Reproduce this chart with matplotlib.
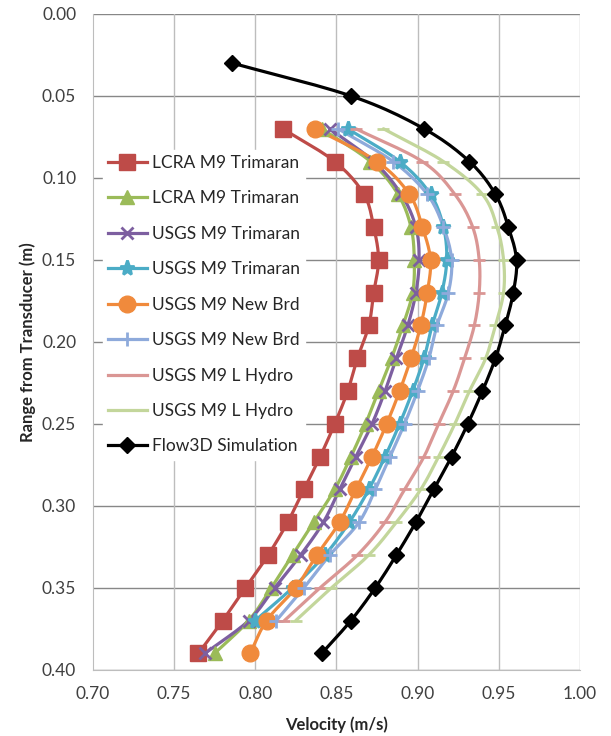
import numpy as np
import matplotlib
matplotlib.use("Agg")
import matplotlib.pyplot as plt
from matplotlib.lines import Line2D

plt.rcParams['font.family'] = ['Lato', 'DejaVu Sans']

# Depths (m) of the measured profiles
depth_17 = [0.07, 0.09, 0.11, 0.13, 0.15, 0.17, 0.19, 0.21, 0.23, 0.25,
            0.27, 0.29, 0.31, 0.33, 0.35, 0.37, 0.39]
depth_16 = depth_17[:16]
depth_flow3d = [0.03, 0.05] + depth_17

# Velocities (m/s)
lcra_trimaran_1 = [0.817, 0.849, 0.867, 0.873, 0.876, 0.873, 0.870, 0.863, 0.857,
                   0.849, 0.840, 0.830, 0.820, 0.808, 0.794, 0.780, 0.765]
lcra_trimaran_2 = [0.841, 0.871, 0.888, 0.896, 0.898, 0.897, 0.891, 0.884, 0.876,
                   0.868, 0.859, 0.849, 0.836, 0.823, 0.810, 0.796, 0.775]
usgs_trimaran_1 = [0.846, 0.873, 0.890, 0.899, 0.901, 0.899, 0.894, 0.887, 0.880,
                   0.872, 0.862, 0.852, 0.842, 0.828, 0.812, 0.796, 0.769]
usgs_trimaran_2 = [0.857, 0.889, 0.908, 0.916, 0.918, 0.915, 0.909, 0.904, 0.897,
                   0.889, 0.880, 0.870, 0.858, 0.843, 0.823, 0.800]
usgs_newbrd_1 = [0.837, 0.875, 0.895, 0.903, 0.908, 0.906, 0.902, 0.896, 0.889,
                 0.881, 0.872, 0.862, 0.852, 0.838, 0.825, 0.807, 0.797]
usgs_newbrd_2 = [0.851, 0.885, 0.906, 0.916, 0.921, 0.919, 0.912, 0.907, 0.900,
                 0.892, 0.883, 0.874, 0.864, 0.846, 0.830, 0.813]
usgs_lhydro_1 = [0.862, 0.903, 0.923, 0.934, 0.938, 0.938, 0.935, 0.929, 0.922,
                 0.913, 0.904, 0.892, 0.880, 0.863, 0.840, 0.818]
usgs_lhydro_2 = [0.879, 0.916, 0.940, 0.949, 0.953, 0.953, 0.948, 0.942, 0.932,
                 0.923, 0.913, 0.902, 0.887, 0.870, 0.847, 0.825]
flow3d_sim = [0.786, 0.859, 0.904, 0.932, 0.948, 0.956, 0.961, 0.959, 0.954, 0.948,
              0.940, 0.931, 0.921, 0.910, 0.899, 0.887, 0.874, 0.859, 0.841]

series = [
    ("LCRA M9 Trimaran", lcra_trimaran_1, depth_17, "#BE4B48", "s", 11),
    ("LCRA M9 Trimaran", lcra_trimaran_2, depth_17, "#9BBB59", "^", 10),
    ("USGS M9 Trimaran", usgs_trimaran_1, depth_17, "#7D5FA0", "x", 9),
    ("USGS M9 Trimaran", usgs_trimaran_2, depth_16, "#4BACC6", "*", 11),
    ("USGS M9 New Brd", usgs_newbrd_1, depth_17, "#F08A3C", "o", 12),
    ("USGS M9 New Brd", usgs_newbrd_2, depth_16, "#8EAADB", "+", 10),
    ("USGS M9 L Hydro", usgs_lhydro_1, depth_16, "#DA9694", "_", 8),
    ("USGS M9 L Hydro", usgs_lhydro_2, depth_16, "#C3D69B", "_", 8),
    ("Flow3D Simulation", flow3d_sim, depth_flow3d, "#000000", "D", 8),
]


def smooth(x, y, n=12):
    """Catmull-Rom curve through the points, like a smoothed spreadsheet line."""
    p = np.column_stack([x, y]).astype(float)
    p = np.vstack([p[0] - (p[1] - p[0]), p, p[-1] + (p[-1] - p[-2])])
    out = []
    t = np.linspace(0, 1, n, endpoint=False)[:, None]
    for i in range(1, len(p) - 2):
        p0, p1, p2, p3 = p[i - 1], p[i], p[i + 1], p[i + 2]
        seg = 0.5 * ((2 * p1) + (-p0 + p2) * t
                     + (2 * p0 - 5 * p1 + 4 * p2 - p3) * t ** 2
                     + (-p0 + 3 * p1 - 3 * p2 + p3) * t ** 3)
        out.append(seg)
    out.append(p[-2][None, :])
    out = np.vstack(out)
    return out[:, 0], out[:, 1]


fig = plt.figure(figsize=(6.11, 7.36), dpi=100)
ax = fig.add_axes([0.152, 0.090, 0.797, 0.891])

handles = []
for label, vel, dep, color, marker, ms in series:
    sx, sy = smooth(vel, dep)
    ax.plot(sx, sy, color=color, lw=2.3, solid_capstyle='round', zorder=3)
    mew = 2.0 if marker in ("x", "+", "_", "*") else 1.0
    ax.plot(vel, dep, linestyle='none', marker=marker, ms=ms, color=color,
            mec=color, mew=mew, zorder=4)
    handles.append(Line2D([], [], color=color, lw=2.3, marker=marker, ms=ms,
                          mec=color, mew=mew, label=label))

ax.set_xlim(0.70, 1.00)
ax.set_ylim(0.40, 0.00)
ax.set_xticks(np.arange(0.70, 1.001, 0.05))
ax.set_yticks(np.arange(0.00, 0.401, 0.05))
ax.xaxis.set_major_formatter(matplotlib.ticker.FormatStrFormatter('%.2f'))
ax.yaxis.set_major_formatter(matplotlib.ticker.FormatStrFormatter('%.2f'))
ax.tick_params(length=0, labelsize=12.5, colors='#404040', pad=12)

for y in np.arange(0.05, 0.401, 0.05):
    ax.axhline(y, color='#878787', lw=1.0, zorder=1)
ax.axhline(0.0, color='#878787', lw=1.0, zorder=1)
for x in np.arange(0.75, 1.001, 0.05):
    ax.axvline(x, color='#bdbdbd', lw=1.0, zorder=1)

for s in ax.spines.values():
    s.set_visible(False)
ax.spines['left'].set_visible(True)
ax.spines['left'].set_color('#bdbdbd')
ax.spines['bottom'].set_visible(True)
ax.spines['bottom'].set_color('#bdbdbd')

ax.set_xlabel("Velocity (m/s)", fontsize=12, fontweight='bold', color='#262626',
              labelpad=10)
ax.set_ylabel("Range from Transducer (m)", fontsize=12, fontweight='bold',
              color='#262626', labelpad=4)

leg = ax.legend(handles=handles, loc='upper left', bbox_to_anchor=(0.02, 0.793),
                frameon=True, fancybox=False, edgecolor='white', framealpha=1.0,
                fontsize=12.5, labelspacing=1.12, handlelength=2.25,
                handletextpad=0.3, borderpad=0.3, borderaxespad=0.0)
for t in leg.get_texts():
    t.set_color('#262626')
leg.set_zorder(5)

fig.savefig("out.png", dpi=100, facecolor='white')
